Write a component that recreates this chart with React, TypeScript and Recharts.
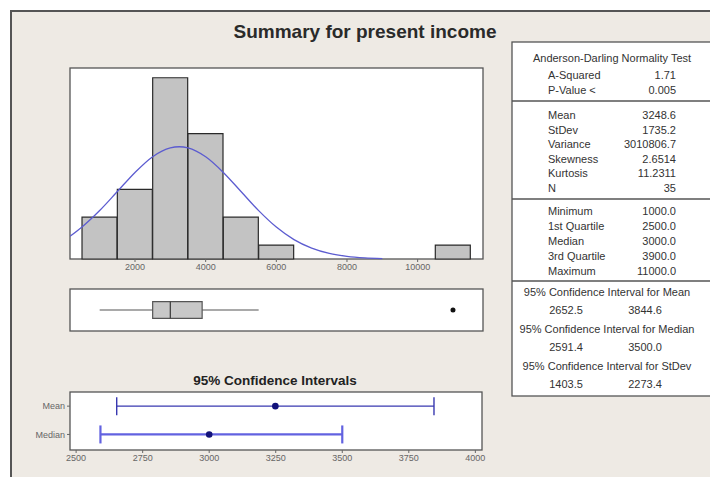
import React from 'react';
import {
  BarChart, Bar, XAxis, YAxis, LineChart, Line, ScatterChart, Scatter,
  ReferenceArea, ReferenceLine, ErrorBar,
} from 'recharts';

// ---------- data ----------
const binCenters = [1000, 2000, 3000, 4000, 5000, 6000, 7000, 8000, 9000, 10000, 11000];
const binCounts = [3, 5, 13, 9, 3, 1, 0, 0, 0, 0, 1];
const histTicks = [2000, 4000, 6000, 8000, 10000];

const curveX = [160, 500, 1000, 1500, 2000, 2500, 3000, 3250, 3500, 4000, 4500, 5000, 5500, 6000, 6500, 7000, 7500, 8000, 8500, 9000];
const curveY = [1.63, 2.3, 3.48, 4.84, 6.21, 7.34, 7.97, 8.05, 7.97, 7.33, 6.21, 4.84, 3.47, 2.29, 1.39, 0.78, 0.4, 0.19, 0.08, 0.03];

const boxMin = 1000;
const boxQ1 = 2500;
const boxMedian = 3000;
const boxQ3 = 3900;
const boxWhiskerHigh = 5500;
const boxOutliers = [11000];

const ciLabels = ['Mean', 'Median'];
const ciCenters = [3248.6, 3000];
const ciLow = [2652.5, 2591.4];
const ciHigh = [3844.6, 3500];
const ciTicks = [2500, 2750, 3000, 3250, 3500, 3750, 4000];

const adTitle = 'Anderson-Darling Normality Test';
const adLabels = ['A-Squared', 'P-Value <'];
const adValues = ['1.71', '0.005'];
const descLabels = ['Mean', 'StDev', 'Variance', 'Skewness', 'Kurtosis', 'N'];
const descValues = ['3248.6', '1735.2', '3010806.7', '2.6514', '11.2311', '35'];
const quantLabels = ['Minimum', '1st Quartile', 'Median', '3rd Quartile', 'Maximum'];
const quantValues = ['1000.0', '2500.0', '3000.0', '3900.0', '11000.0'];
const ciTableTitles = ['95% Confidence Interval for Mean', '95% Confidence Interval for Median', '95% Confidence Interval for StDev'];
const ciTableLow = ['2652.5', '2591.4', '1403.5'];
const ciTableHigh = ['3844.6', '3500.0', '2273.4'];

const title = 'Summary for present income';
const ciTitle = '95% Confidence Intervals';

// ---------- derived tables ----------
const histData = binCenters.map((b, i) => ({ bin: b, count: binCounts[i] }));
const curveData = curveX.map((x, i) => ({ x, y: curveY[i] }));
const ciRows = ciLabels.map((l, i) => ({
  x: ciCenters[i],
  y: ciLabels.length - i,
  err: [ciCenters[i] - ciLow[i], ciHigh[i] - ciCenters[i]],
}));

const FONT = '"Liberation Sans", Arial, sans-serif';
const W = 710;
const H = 477;
const X_DOMAIN: [number, number] = [160, 11850];

const abs: React.CSSProperties = { position: 'absolute', left: 0, top: 0 };

export default function App() {
  const tableText = { fontFamily: FONT, fontSize: 11, fill: '#333' } as const;
  const lx = 548;
  const vx = 676;
  return (
    <div style={{ position: 'absolute', left: 0, top: 0, width: W, height: H, background: '#fff', overflow: 'hidden' }}>
      {/* background frames */}
      <svg width={W} height={H} style={abs}>
        <rect x={11} y={11} width={720} height={480} fill="#eeeae4" />
        <line x1={10} y1={11} x2={W} y2={11} stroke="#555" strokeWidth={2} />
        <line x1={11} y1={10} x2={11} y2={H} stroke="#555" strokeWidth={2} />
        <text x={365} y={31} textAnchor="middle" dominantBaseline="central" fontFamily={FONT} fontSize={19} fontWeight="bold" fill="#2a2a2a">{title}</text>
        <rect x={70} y={68} width={413} height={191} fill="#fff" stroke="#555" strokeWidth={1.3} />
        <rect x={70} y={289} width={413} height={42} fill="#fff" stroke="#555" strokeWidth={1.3} />
        <rect x={70} y={392} width={412} height={58} fill="#fff" stroke="#555" strokeWidth={1.3} />
        <text x={275} y={380} textAnchor="middle" dominantBaseline="central" fontFamily={FONT} fontSize={13.5} fontWeight="bold" fill="#222">{ciTitle}</text>

        {/* stats table */}
        <rect x={512} y={42} width={220} height={354} fill="#fff" stroke="#555" strokeWidth={1.3} />
        <line x1={512} y1={101} x2={W} y2={101} stroke="#555" strokeWidth={1.3} />
        <line x1={512} y1={199} x2={W} y2={199} stroke="#555" strokeWidth={1.3} />
        <line x1={512} y1={281} x2={W} y2={281} stroke="#555" strokeWidth={1.3} />
        <text x={612} y={58} textAnchor="middle" dominantBaseline="central" {...tableText}>{adTitle}</text>
        {adLabels.map((l, i) => (
          <g key={l}>
            <text x={lx} y={75 + i * 15} dominantBaseline="central" {...tableText}>{l}</text>
            <text x={vx} y={75 + i * 15} textAnchor="end" dominantBaseline="central" {...tableText}>{adValues[i]}</text>
          </g>
        ))}
        {descLabels.map((l, i) => (
          <g key={l}>
            <text x={lx} y={115 + i * 14.6} dominantBaseline="central" {...tableText}>{l}</text>
            <text x={vx} y={115 + i * 14.6} textAnchor="end" dominantBaseline="central" {...tableText}>{descValues[i]}</text>
          </g>
        ))}
        {quantLabels.map((l, i) => (
          <g key={l}>
            <text x={lx} y={211 + i * 15} dominantBaseline="central" {...tableText}>{l}</text>
            <text x={vx} y={211 + i * 15} textAnchor="end" dominantBaseline="central" {...tableText}>{quantValues[i]}</text>
          </g>
        ))}
        {ciTableTitles.map((t, i) => (
          <g key={t}>
            <text x={607} y={292 + i * 37} textAnchor="middle" dominantBaseline="central" {...tableText}>{t}</text>
            <text x={566} y={310 + i * 37} textAnchor="middle" dominantBaseline="central" {...tableText}>{ciTableLow[i]}</text>
            <text x={645} y={310 + i * 37} textAnchor="middle" dominantBaseline="central" {...tableText}>{ciTableHigh[i]}</text>
          </g>
        ))}
      </svg>

      {/* histogram */}
      <div style={abs}>
        <BarChart width={W} height={H} data={histData} barCategoryGap={0} barGap={0}
          margin={{ top: 68, left: 70, right: W - 483, bottom: H - 259 - 20 }}>
          <XAxis type="number" dataKey="bin" domain={X_DOMAIN} allowDataOverflow ticks={histTicks}
            height={20} axisLine={false} tickSize={3} tickLine={{ stroke: '#666' }}
            tick={{ fontSize: 9, fill: '#666', fontFamily: FONT }} />
          <YAxis hide domain={[0, 13.7]} />
          <Bar dataKey="count" fill="#c3c3c3" stroke="#2a2a2a" strokeWidth={1.2} isAnimationActive={false} />
        </BarChart>
      </div>
      <div style={abs}>
        <LineChart width={W} height={H} data={curveData}
          margin={{ top: 68, left: 70, right: W - 483, bottom: H - 259 }}>
          <XAxis hide type="number" dataKey="x" domain={X_DOMAIN} allowDataOverflow />
          <YAxis hide domain={[0, 13.7]} />
          <Line dataKey="y" type="monotone" dot={false} stroke="#5c5cd0" strokeWidth={1.3} isAnimationActive={false} />
        </LineChart>
      </div>

      {/* boxplot */}
      <div style={abs}>
        <ScatterChart width={W} height={H}
          margin={{ top: 289, left: 70, right: W - 483, bottom: H - 331 }}>
          <XAxis hide type="number" dataKey="x" domain={X_DOMAIN} allowDataOverflow />
          <YAxis hide type="number" dataKey="y" domain={[0, 2]} />
          <ReferenceArea x1={boxQ1} x2={boxQ3} y1={0.6} y2={1.4} fill="#c8c8c8" fillOpacity={1} stroke="#555" strokeWidth={1.2} />
          <ReferenceLine segment={[{ x: boxMedian, y: 0.6 }, { x: boxMedian, y: 1.4 }]} stroke="#444" strokeWidth={1.3} />
          <Scatter data={[{ x: boxMin, y: 1 }, { x: boxQ1, y: 1 }]} line={{ stroke: '#555', strokeWidth: 1.2 }}
            shape={() => <g />} isAnimationActive={false} />
          <Scatter data={[{ x: boxQ3, y: 1 }, { x: boxWhiskerHigh, y: 1 }]} line={{ stroke: '#555', strokeWidth: 1.2 }}
            shape={() => <g />} isAnimationActive={false} />
          <Scatter data={boxOutliers.map((o) => ({ x: o, y: 1 }))} isAnimationActive={false}
            shape={(p: any) => <circle cx={p.cx} cy={p.cy} r={2.5} fill="#111" />} />
        </ScatterChart>
      </div>

      {/* confidence intervals */}
      <div style={abs}>
        <ScatterChart width={W} height={H}
          margin={{ top: 392, left: 20, right: W - 482, bottom: H - 450 - 20 }}>
          <XAxis type="number" dataKey="x" domain={[2477, 4025]} allowDataOverflow ticks={ciTicks}
            height={20} axisLine={false} tickSize={3} tickLine={{ stroke: '#666' }}
            tick={{ fontSize: 9, fill: '#666', fontFamily: FONT }} />
          <YAxis type="number" dataKey="y" domain={[0.45, 2.5]} ticks={[1, 2]} width={50}
            axisLine={false} tickSize={3} tickLine={{ stroke: '#666' }}
            tickFormatter={(v: number) => ciLabels[ciLabels.length - v]}
            tick={{ fontSize: 9, fill: '#666', fontFamily: FONT }} />
          {ciRows.map((r, i) => (
            <Scatter key={ciLabels[i]} data={[r]} isAnimationActive={false}
              shape={(p: any) => <circle cx={p.cx} cy={p.cy} r={3.3} fill="#12127a" />}>
              <ErrorBar dataKey="err" direction="x" width={9}
                stroke={i === 0 ? '#3838b0' : '#6262e0'} strokeWidth={i === 0 ? 1.4 : 2.2} />
            </Scatter>
          ))}
        </ScatterChart>
      </div>
    </div>
  );
}
